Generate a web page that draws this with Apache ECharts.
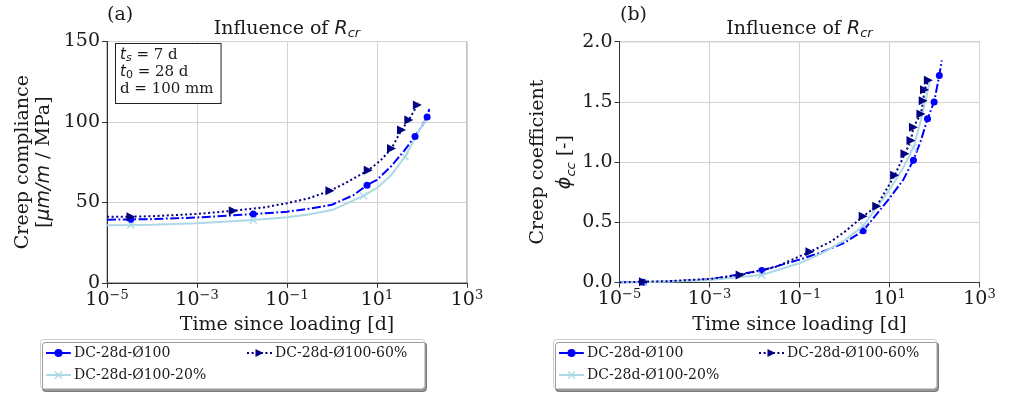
<!DOCTYPE html>
<html><head><meta charset="utf-8">
<script src="https://cdn.jsdelivr.net/npm/echarts@6/dist/echarts.min.js"></script>
<style>html,body{margin:0;padding:0;background:#fff}#c{width:1013px;height:393px}</style>
</head><body><div id="c"></div>
<script>
// ---------- data ----------
const names = ['DC-28d-Ø100', 'DC-28d-Ø100-60%', 'DC-28d-Ø100-20%'];
const xMin = 1e-5, xMax = 1e3;
const yTicksA = [0, 50, 100, 150];
const yTicksB = [0, 0.5, 1.0, 1.5, 2.0];

// panel (a): creep compliance
const a_blue_t = [1e-5, 3.4e-5, 1e-4, 1e-3, 0.0178, 0.1, 0.3, 1, 3, 6, 10, 20, 40, 70, 100, 130, 145];
const a_blue_v = [39.2, 39.4, 39.6, 40.6, 42.7, 44.2, 46, 48.5, 54.5, 60.7, 64, 72, 82, 91, 97.5, 103, 108];
const a_blue_m = [0, 1, 0, 0, 1, 0, 0, 0, 0, 1, 0, 0, 0, 1, 0, 1, 0];

const a_navy_t = [1e-5, 3.4e-5, 1e-4, 1e-3, 0.0064, 0.03, 0.1, 0.3, 0.9, 2, 6.4, 12, 21, 35, 51, 79, 85];
const a_navy_v = [41.0, 41.1, 41.4, 42.8, 44.8, 46.8, 49.5, 52.5, 57.2, 62, 70, 76, 83.5, 95, 101.2, 110.5, 112];
const a_navy_m = [0, 1, 0, 0, 1, 0, 0, 0, 1, 0, 1, 0, 1, 1, 1, 1, 0];

const a_light_t = [1e-5, 3.4e-5, 1e-4, 1e-3, 0.0178, 0.1, 0.3, 1, 5, 10, 20, 42, 84, 120];
const a_light_v = [35.8, 35.9, 36.1, 37.0, 39.0, 40.7, 42.5, 45.2, 54, 59, 66.5, 78.4, 94, 101];
const a_light_m = [0, 1, 0, 0, 1, 0, 0, 0, 1, 0, 0, 1, 0, 0];

// panel (b): creep coefficient
const b_blue_t = [1e-5, 3.4e-5, 1e-4, 1e-3, 0.0145, 0.1, 0.3, 1, 2.6, 10, 20, 34, 50, 70, 98, 128, 145];
const b_blue_v = [0, 0.003, 0.006, 0.025, 0.1, 0.19, 0.25, 0.33, 0.43, 0.7, 0.85, 1.016, 1.18, 1.36, 1.5, 1.72, 1.845];
const b_blue_m = [0, 1, 0, 0, 1, 0, 0, 0, 1, 0, 0, 1, 0, 1, 1, 1, 0];

const b_navy_t = [1e-5, 3.4e-5, 1e-4, 1e-3, 0.0048, 0.03, 0.17, 0.5, 1, 2.6, 5.2, 13, 22, 30, 34, 50, 56, 60, 73];
const b_navy_v = [0, 0.007, 0.01, 0.03, 0.062, 0.13, 0.255, 0.34, 0.42, 0.55, 0.634, 0.89, 1.07, 1.18, 1.29, 1.40, 1.51, 1.6, 1.68];
const b_navy_m = [0, 1, 0, 0, 1, 0, 1, 0, 0, 1, 1, 1, 1, 1, 1, 1, 1, 1, 1];

const b_light_t = [1e-5, 3.4e-5, 1e-4, 1e-3, 0.0145, 0.1, 0.3, 1, 2.6, 10, 20, 34, 50, 78];
const b_light_v = [0, 0.003, 0.006, 0.02, 0.062, 0.16, 0.24, 0.35, 0.47, 0.77, 0.95, 1.12, 1.35, 1.66];
const b_light_m = [0, 1, 0, 0, 1, 0, 0, 0, 1, 0, 0, 1, 0, 0];

// ---------- styles ----------
const SERIF = 'DejaVu Serif', SANS = 'DejaVu Sans', TXT = '#1a1a1a';
const TRI = 'path://M0,0 L10,5 L0,10 Z';
const XMK = 'path://M0,1.2 L1.2,0 L5,3.8 L8.8,0 L10,1.2 L6.2,5 L10,8.8 L8.8,10 L5,6.2 L1.2,10 L0,8.8 L3.8,5 Z';
const styles = {
  'DC-28d-Ø100': { color: '#0000ff', type: [9, 2.5, 1.8, 2.5], symbol: 'circle', size: 7 },
  'DC-28d-Ø100-60%': { color: '#000080', type: [2, 2.6], symbol: TRI, size: 9 },
  'DC-28d-Ø100-20%': { color: '#add8e6', type: 'solid', symbol: XMK, size: 8 }
};

function pts(t, v, m) {
  return t.map((x, i) => { const d = { value: [x, v[i]] }; if (!m[i]) d.symbol = 'none'; return d; });
}
function ser(name, idx, t, v, m) {
  const s = styles[name];
  return {
    name, type: 'line', xAxisIndex: idx, yAxisIndex: idx,
    data: pts(t, v, m), showSymbol: true, symbol: s.symbol, symbolSize: s.size,
    color: s.color, lineStyle: { color: s.color, width: 2, type: s.type },
    itemStyle: { color: s.color }, animation: false, clip: true
  };
}
const sup = { fontFamily: SERIF, fontSize: 13, lineHeight: 13, verticalAlign: 'top', color: TXT };
function xAxisOf(idx) {
  return {
    type: 'log', logBase: 10, gridIndex: idx, min: xMin, max: xMax, interval: 2,
    name: 'Time since loading [d]', nameLocation: 'middle', nameGap: 26,
    nameTextStyle: { fontFamily: SERIF, fontSize: 19, color: TXT },
    axisLine: { show: true, lineStyle: { color: '#333', width: 1 } },
    axisTick: { show: true, length: 5, lineStyle: { color: '#333' } },
    minorTick: { show: false },
    splitLine: { show: true, lineStyle: { color: '#d3d3d3', width: 1 } },
    axisLabel: {
      margin: 6, color: TXT, fontFamily: SERIF, fontSize: 19, lineHeight: 22,
      formatter: v => { const e = Math.round(Math.log10(v)); return '10{sup|' + (e < 0 ? '−' : '') + Math.abs(e) + '}'; },
      rich: { sup }
    }
  };
}
function yAxisOf(idx, min, max, interval, name, gap, lh, fmt, rich) {
  return {
    type: 'value', gridIndex: idx, min, max, interval,
    name, nameLocation: 'middle', nameGap: gap,
    nameTextStyle: { fontFamily: SERIF, fontSize: 19, color: TXT, lineHeight: lh, rich },
    axisLine: { show: true, lineStyle: { color: '#333', width: 1 } },
    axisTick: { show: true, length: 5, lineStyle: { color: '#333' } },
    splitLine: { show: true, lineStyle: { color: '#d3d3d3', width: 1 } },
    axisLabel: { margin: 7, color: TXT, fontFamily: SERIF, fontSize: 19, formatter: fmt }
  };
}
const itS = { fontFamily: SANS, fontStyle: 'italic', fontSize: 19, color: TXT };
const subS = { fontFamily: SANS, fontStyle: 'italic', fontSize: 13, lineHeight: 12, verticalAlign: 'bottom', color: TXT };

function legendAt(name, left, top) {
  return {
    data: [name], left, top, padding: 0, itemWidth: 25, itemHeight: 10, itemGap: 0, z: 10,
    selectedMode: false,
    textStyle: { fontFamily: SERIF, fontSize: 14, color: TXT, padding: [0, 0, 0, -2] }
  };
}
function legendBox(x, y, w, h) {
  return {
    type: 'rect', left: x, top: y, z: 1,
    shape: { width: w, height: h, r: 3 },
    style: { fill: '#fff', stroke: '#cccccc', lineWidth: 1, shadowBlur: 0, shadowOffsetX: 2, shadowOffsetY: 3, shadowColor: 'rgba(0,0,0,0.4)' }
  };
}
function titleText(x) {
  return {
    type: 'text', x, y: 29, z: 5,
    style: {
      text: 'Influence of {it|R}{sub|cr}', fill: TXT, fontFamily: SERIF, fontSize: 19,
      align: 'center', verticalAlign: 'middle', lineHeight: 22,
      rich: { it: Object.assign({}, itS, { lineHeight: 22 }), sub: subS }
    }
  };
}

const option = {
  backgroundColor: '#fff',
  animation: false,
  grid: [
    { left: 107, top: 41.5, width: 360, height: 241.3, show: true, borderColor: '#888', borderWidth: 1, backgroundColor: 'transparent' },
    { left: 619.5, top: 41.7, width: 360, height: 240.8, show: true, borderColor: '#888', borderWidth: 1, backgroundColor: 'transparent' }
  ],
  xAxis: [xAxisOf(0), xAxisOf(1)],
  yAxis: [
    yAxisOf(0, 0, 150, 50, 'Creep compliance\n[{it|μm/m} / MPa]', 52, 21, v => String(v), { it: Object.assign({}, itS, { lineHeight: 21 }) }),
    yAxisOf(1, 0, 2, 0.5, 'Creep coefficient\n{it|ϕ}{sub|cc} [-]', 35, 27, v => v.toFixed(1), { it: Object.assign({}, itS, { lineHeight: 27 }), sub: subS })
  ],
  legend: [
    legendAt(names[0], 45, 346), legendAt(names[1], 246, 346), legendAt(names[2], 45, 368),
    legendAt(names[0], 558, 346), legendAt(names[1], 758, 346), legendAt(names[2], 558, 368)
  ],
  series: [
    ser(names[0], 0, a_blue_t, a_blue_v, a_blue_m),
    ser(names[2], 0, a_light_t, a_light_v, a_light_m),
    ser(names[1], 0, a_navy_t, a_navy_v, a_navy_m),
    ser(names[0], 1, b_blue_t, b_blue_v, b_blue_m),
    ser(names[2], 1, b_light_t, b_light_v, b_light_m),
    ser(names[1], 1, b_navy_t, b_navy_v, b_navy_m)
  ],
  graphic: [
    legendBox(40, 339, 384, 49),
    legendBox(553, 339, 383, 49),
    titleText(287), titleText(799.5),
    { type: 'text', x: 107, y: 15, style: { text: '(a)', fill: TXT, fontFamily: SERIF, fontSize: 19, verticalAlign: 'middle' } },
    { type: 'text', x: 620, y: 15, style: { text: '(b)', fill: TXT, fontFamily: SERIF, fontSize: 19, verticalAlign: 'middle' } },
    {
      type: 'text', x: 116, y: 44, z: 5,
      style: {
        text: '{it|t}{sub|s} = 7 d\n{it|t}{sb|0} = 28 d\nd = 100 mm',
        fill: TXT, fontFamily: SERIF, fontSize: 15, lineHeight: 17,
        verticalAlign: 'top', align: 'left',
        backgroundColor: '#fff', borderColor: '#222', borderWidth: 1, padding: [3, 7, 5, 4],
        rich: {
          it: { fontFamily: SANS, fontStyle: 'italic', fontSize: 15, lineHeight: 17, fill: TXT },
          sub: { fontFamily: SANS, fontStyle: 'italic', fontSize: 11, lineHeight: 10, verticalAlign: 'bottom', fill: TXT },
          sb: { fontFamily: SANS, fontSize: 11, lineHeight: 10, verticalAlign: 'bottom', fill: TXT }
        }
      }
    }
  ]
};
const chart = echarts.init(document.getElementById('c'), null, { renderer: 'canvas' });
chart.setOption(option);
</script></body></html>
